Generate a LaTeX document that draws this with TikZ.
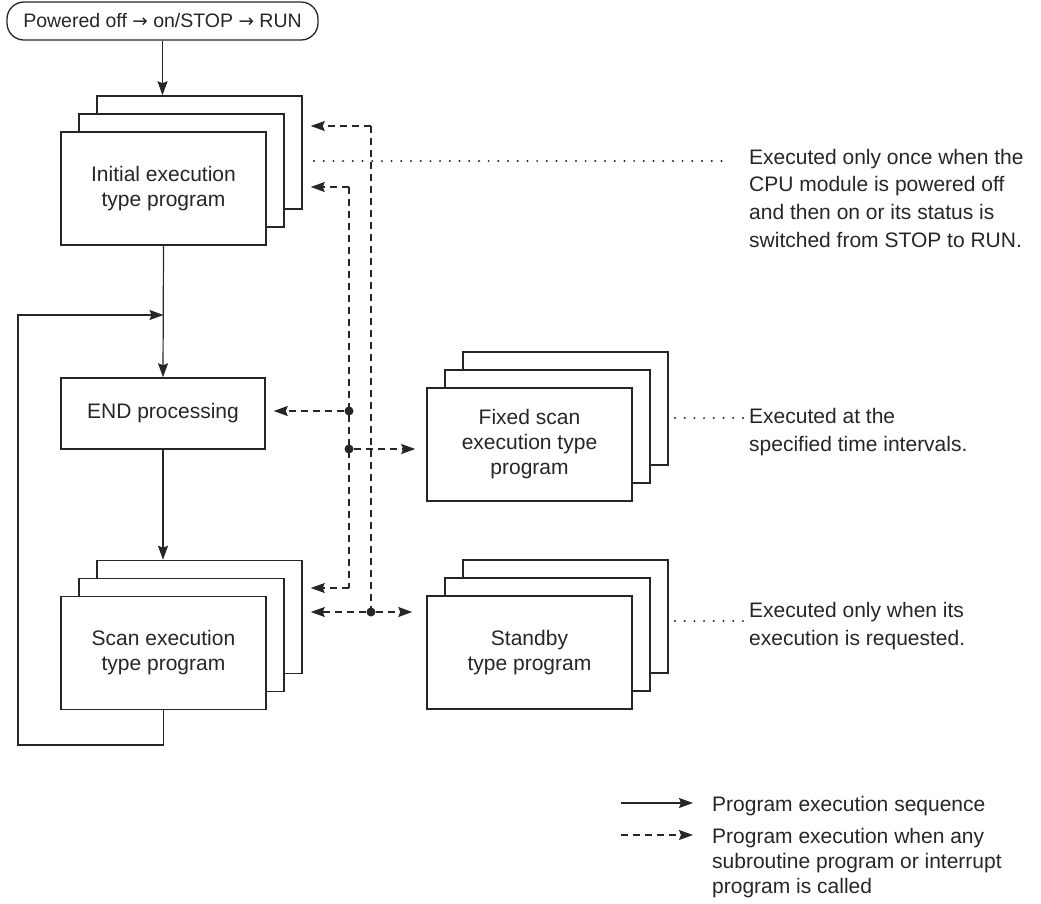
\documentclass[tikz,border=0pt]{standalone}
\usepackage{fontspec}
\setmainfont{Liberation Sans}
\newfontfamily\arrowfont{DejaVu Sans}
\usetikzlibrary{arrows.meta}

% three stacked sheets: back, middle, front (front carries the text)
\newcommand\progstack[3]{%
  \node[sheet, xshift=36pt, yshift=36pt] (#1-b) at #2 {};
  \node[sheet, xshift=18pt, yshift=18pt] (#1-m) at #2 {};
  \node[sheet] (#1) at #2 {#3};
}
\newcommand\textarrow{{\arrowfont\fontsize{18.5}{20}\selectfont →}}

\begin{document}
\begin{tikzpicture}[x=1pt, y=-1pt,
  every node/.style={font=\fontsize{21}{25}\selectfont, text=black!85},
  sheet/.style={draw=black!85, line width=1.5pt, fill=white, minimum width=205pt,
    minimum height=113pt, inner sep=0pt, align=center},
  procbox/.style={draw=black!85, line width=1.5pt, minimum width=204pt,
    minimum height=71pt, inner sep=0pt},
  pill/.style={draw=black!85, line width=1.3pt, rounded corners=17pt, minimum width=311pt,
    minimum height=38pt, inner sep=0pt, font=\fontsize{19.5}{23}\selectfont},
  tipshape/.style={-{Stealth[length=14pt, width=10pt, inset=2pt]}},
  flow/.style={draw=black!85, line width=1.2pt, tipshape},
  callline/.style={draw=black!85, line width=1.2pt, dash pattern=on 7pt off 5pt},
  call/.style={callline, tipshape},
  note/.style={inner sep=0pt, anchor=base west, align=left,
    font=\fontsize{21}{27.6}\selectfont},
  dotline/.style={draw=black!85, line width=2.2pt, line cap=round,
    dash pattern=on 0pt off 9.7pt},
  junction/.style={circle, fill=black!85, inner sep=0pt, minimum size=9pt}
]
\useasboundingbox (0,0) rectangle (1041,903);

% ---- program blocks ----
\node[pill] (start) at (162.5,21) {Powered off \textarrow\ on/STOP \textarrow\ RUN};
\progstack{init}{(163.5,188.5)}{Initial execution\\type program}
\node[procbox] (endp) at (163,413.5) {END processing};
\progstack{scan}{(163.5,653)}{Scan execution\\type program}
\progstack{fixed}{(529.5,444.5)}{Fixed scan\\execution type\\program}
\progstack{standby}{(529.5,652.5)}{Standby\\type program}

% ---- execution sequence ----
\draw[flow] (start.south) -- (start.south |- init-b.north);
\coordinate (join) at (163.5,315);
\coordinate (loopL) at (18,745);
\draw[flow] (init.south) -- (endp.north);
\draw[flow] (endp.south) -- (endp.south |- scan-b.north);
\draw[flow] (scan.south) |- (loopL) |- (join);

% ---- subroutine / interrupt calls ----
\coordinate (v1top) at (349,187);
\coordinate (v1bot) at (349,588);
\coordinate (v2top) at (371,126);
\coordinate (v2bot) at (371,612);
\node[junction] (j1) at (349,411) {};
\node[junction] (j2) at (349,449) {};
\node[junction] (j3) at (v2bot) {};

\draw[callline] (v1top) -- (v1bot);
\draw[callline] (v2top) -- (v2bot);
\draw[call, shorten >=8pt] (v2top) -- (v2top -| init-b.east);
\draw[call, shorten >=8pt] (v1top) -- (v1top -| init-b.east);
\draw[call, shorten >=8pt] (j1) -- (j1 -| endp.east);
\draw[call, shorten >=11pt] (j2) -- (j2 -| fixed.west);
\draw[call, shorten >=8pt] (v1bot) -- (v1bot -| scan-b.east);
\draw[call, shorten >=8pt] (j3) -- (j3 -| scan-b.east);
\draw[call, shorten >=14pt] (j3) -- (j3 -| standby.west);

% ---- notes (anchored at the baseline of their last line) ----
\node[note] (n1) at (749,247) {Executed only once when the\\CPU module is powered off\\and then on or its status is\\switched from STOP to RUN.};
\node[note] (n2) at (749,451) {Executed at the\\specified time intervals.};
\node[note] (n3) at (749,645) {Executed only when its\\execution is requested.};

\coordinate (d1s) at (314,161);
\coordinate (d1e) at (728,161);
\coordinate (d2s) at (675,418);
\coordinate (d2e) at (743,418);
\coordinate (d3s) at (675,621);
\coordinate (d3e) at (743,621);
\draw[dotline] (d1s) -- (d1e);
\draw[dotline] (d2s) -- (d2e);
\draw[dotline] (d3s) -- (d3e);

% ---- legend ----
\coordinate (lg1) at (621,803);
\coordinate (lg2) at (621,835);
\node[note] (lt1) at (712,811) {Program execution sequence};
\node[note, font=\fontsize{21}{25}\selectfont] (lt2) at (712,893) {Program execution when any\\subroutine program or interrupt\\program is called};
\draw[flow, shorten >=19pt] (lg1) -- (lg1 -| lt1.west);
\draw[call, shorten >=19pt] (lg2) -- (lg2 -| lt2.west);
\end{tikzpicture}
\end{document}
